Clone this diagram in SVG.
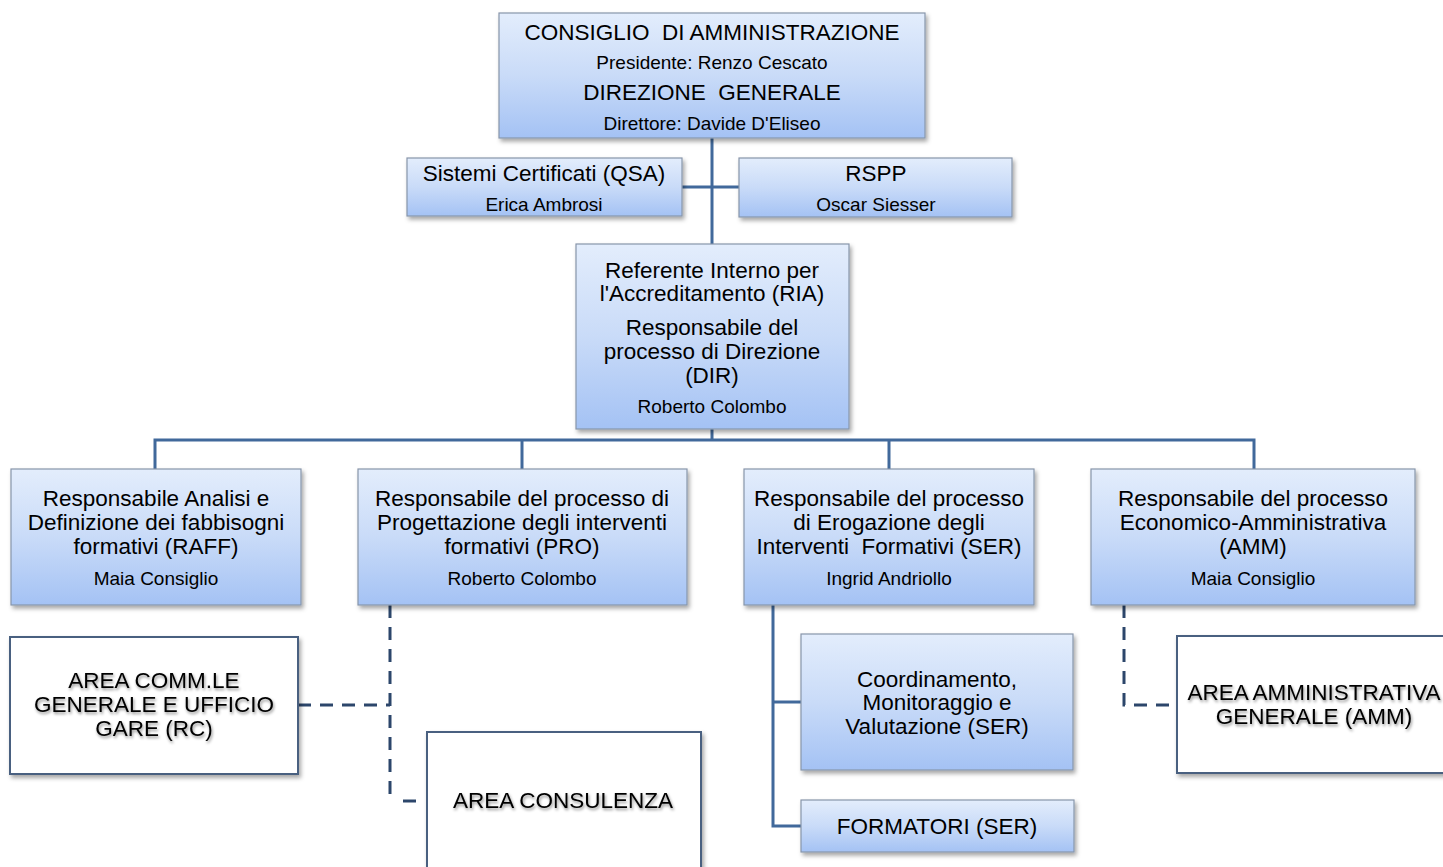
<svg xmlns="http://www.w3.org/2000/svg" width="1443" height="867" viewBox="0 0 1443 867">
<defs>
<linearGradient id="g" x1="0" y1="0" x2="0" y2="1">
<stop offset="0" stop-color="#e3edfc"/>
<stop offset="0.5" stop-color="#c9dbf8"/>
<stop offset="1" stop-color="#a4c2f4"/>
</linearGradient>
<filter id="sh" x="-5%" y="-5%" width="115%" height="125%">
<feDropShadow dx="2" dy="3" stdDeviation="2" flood-color="#000" flood-opacity="0.35"/>
</filter>
<filter id="tsh" x="-5%" y="-20%" width="110%" height="160%">
<feDropShadow dx="1" dy="2" stdDeviation="1.5" flood-color="#000" flood-opacity="0.45"/>
</filter>
</defs>
<style>
.b{fill:url(#g);stroke:#8796aa;stroke-width:1.2;filter:url(#sh)}
.w{fill:#fff;stroke:#4a6080;stroke-width:2;filter:url(#sh)}
text{font-family:"Liberation Sans",Arial,sans-serif;fill:#000;text-anchor:middle;white-space:pre}
.t{font-size:22.5px}
.s{font-size:19px}
.wt{font-size:22.5px;filter:url(#tsh)}
.c{fill:none;stroke:#41699b;stroke-width:3}
.d{fill:none;stroke:#2c466b;stroke-width:3;stroke-dasharray:13,9}
</style>
<g id="connectors">
<path class="c" d="M712,138 V244"/>
<path class="c" d="M682,187 H739"/>
<path class="c" d="M712,429 V440"/>
<path class="c" d="M155,469 V440 H1254 V469"/>
<path class="c" d="M522,440 V469"/>
<path class="c" d="M889,440 V469"/>
<path class="c" d="M773,605 V826 H801"/>
<path class="c" d="M773,702 H801"/>
<path class="d" d="M390,605 V802"/>
<path class="d" d="M298,705 H390"/>
<path class="d" d="M403,801 H418"/>
<path class="d" d="M1124,605 V705 H1176"/>
</g>
<g id="cda">
<rect class="b" x="499" y="13" width="426" height="125"/>
<text class="t" x="712" y="40" xml:space="preserve">CONSIGLIO  DI AMMINISTRAZIONE</text>
<text class="s" x="712" y="69">Presidente: Renzo Cescato</text>
<text class="t" x="712" y="100" xml:space="preserve">DIREZIONE  GENERALE</text>
<text class="s" x="712" y="130">Direttore: Davide D'Eliseo</text>
</g>
<g id="qsa">
<rect class="b" x="407" y="158" width="275" height="58"/>
<text class="t" x="544" y="181">Sistemi Certificati (QSA)</text>
<text class="s" x="544" y="211">Erica Ambrosi</text>
</g>
<g id="rspp">
<rect class="b" x="739" y="158" width="273" height="59"/>
<text class="t" x="876" y="181">RSPP</text>
<text class="s" x="876" y="211">Oscar Siesser</text>
</g>
<g id="ria">
<rect class="b" x="576" y="244" width="273" height="185"/>
<text class="t" x="712" y="278">Referente Interno per</text>
<text class="t" x="712" y="301">l'Accreditamento (RIA)</text>
<text class="t" x="712" y="335">Responsabile del</text>
<text class="t" x="712" y="359">processo di Direzione</text>
<text class="t" x="712" y="383">(DIR)</text>
<text class="s" x="712" y="413">Roberto Colombo</text>
</g>
<g id="raff">
<rect class="b" x="11" y="469" width="290" height="136"/>
<text class="t" x="156" y="506">Responsabile Analisi e</text>
<text class="t" x="156" y="530">Definizione dei fabbisogni</text>
<text class="t" x="156" y="554">formativi (RAFF)</text>
<text class="s" x="156" y="585">Maia Consiglio</text>
</g>
<g id="pro">
<rect class="b" x="358" y="469" width="329" height="136"/>
<text class="t" x="522" y="506">Responsabile del processo di</text>
<text class="t" x="522" y="530">Progettazione degli interventi</text>
<text class="t" x="522" y="554">formativi (PRO)</text>
<text class="s" x="522" y="585">Roberto Colombo</text>
</g>
<g id="ser">
<rect class="b" x="744" y="469" width="290" height="136"/>
<text class="t" x="889" y="506">Responsabile del processo</text>
<text class="t" x="889" y="530">di Erogazione degli</text>
<text class="t" x="889" y="554" xml:space="preserve">Interventi  Formativi (SER)</text>
<text class="s" x="889" y="585">Ingrid Andriollo</text>
</g>
<g id="amm">
<rect class="b" x="1091" y="469" width="324" height="136"/>
<text class="t" x="1253" y="506">Responsabile del processo</text>
<text class="t" x="1253" y="530">Economico-Amministrativa</text>
<text class="t" x="1253" y="554">(AMM)</text>
<text class="s" x="1253" y="585">Maia Consiglio</text>
</g>
<g id="rc">
<rect class="w" x="10" y="637" width="288" height="137"/>
<text class="wt" x="154" y="688">AREA COMM.LE</text>
<text class="wt" x="154" y="712">GENERALE E UFFICIO</text>
<text class="wt" x="154" y="736">GARE (RC)</text>
</g>
<g id="consulenza">
<rect class="w" x="427" y="732" width="274" height="150"/>
<text class="wt" x="563" y="808">AREA CONSULENZA</text>
</g>
<g id="coord">
<rect class="b" x="801" y="634" width="272" height="136"/>
<text class="t" x="937" y="687">Coordinamento,</text>
<text class="t" x="937" y="710">Monitoraggio e</text>
<text class="t" x="937" y="734">Valutazione (SER)</text>
</g>
<g id="formatori">
<rect class="b" x="801" y="800" width="273" height="52"/>
<text class="t" x="937" y="834">FORMATORI (SER)</text>
</g>
<g id="areaamm">
<rect class="w" x="1177" y="636" width="290" height="137"/>
<text class="wt" x="1314" y="700">AREA AMMINISTRATIVA</text>
<text class="wt" x="1314" y="724">GENERALE (AMM)</text>
</g>
</svg>
